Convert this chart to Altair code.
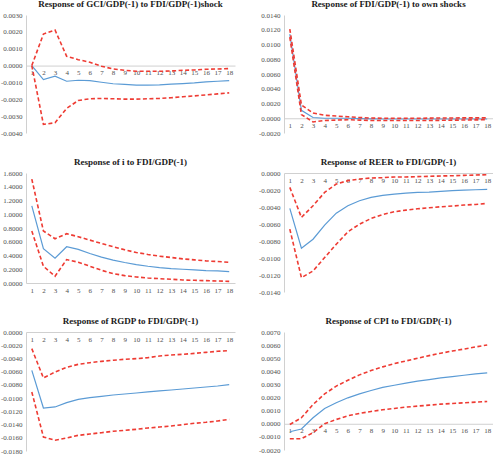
import altair as alt
import pandas as pd

# Horizon (periods after the shock)
steps = list(range(1, 19))

# Response of GCI/GDP(-1) to FDI/GDP(-1) shock
gci_irf = [0.0, -0.00083, -0.00063, -0.00093, -0.00087, -0.00089, -0.00099, -0.00108, -0.00112,
           -0.00116, -0.00116, -0.00114, -0.00110, -0.00107, -0.00103, -0.00097, -0.00093, -0.00089]
gci_upper = [0.0, 0.00187, 0.00211, 0.00055, 0.00035, 0.00020, -0.00004, -0.00020, -0.00028,
             -0.00034, -0.00034, -0.00034, -0.00032, -0.00028, -0.00026, -0.00022, -0.00020, -0.00018]
gci_lower = [0.0, -0.00349, -0.00339, -0.00254, -0.00207, -0.00197, -0.00195, -0.00197, -0.00199,
             -0.00199, -0.00197, -0.00195, -0.00191, -0.00185, -0.00180, -0.00174, -0.00168, -0.00162]
gci_ticks = [-0.004, -0.003, -0.002, -0.001, 0.0, 0.001, 0.002, 0.003]

# Response of FDI/GDP(-1) to own shocks
fdi_irf = [0.0114, 0.00107, 0.0001, 0.0, 0.0, 0.0, -0.00005, -0.00008, -0.0001,
           -0.0001, -0.0001, -0.0001, -0.0001, -0.0001, -0.0001, -0.0001, -0.0001, -0.0001]
fdi_upper = [0.0121, 0.0018, 0.0007, 0.0004, 0.0003, 0.0002, 0.0001, 0.00003, 0.0,
             0.0, 0.0, 0.0, 0.00002, 0.00003, 0.00004, 0.00005, 0.00005, 0.00005]
fdi_lower = [0.0110, 0.0005, -0.0005, -0.0003, -0.00025, -0.0002, -0.00025, -0.0003, -0.0003,
             -0.0003, -0.0003, -0.0003, -0.0003, -0.00028, -0.00026, -0.00024, -0.00022, -0.0002]
fdi_ticks = [-0.002, 0.0, 0.002, 0.004, 0.006, 0.008, 0.010, 0.012, 0.014]

# Response of i to FDI/GDP(-1)
i_irf = [1.122, 0.498, 0.361, 0.527, 0.488, 0.429, 0.376, 0.332, 0.298,
         0.268, 0.244, 0.224, 0.210, 0.200, 0.190, 0.180, 0.176, 0.166]
i_upper = [1.512, 0.756, 0.644, 0.717, 0.673, 0.624, 0.576, 0.527, 0.483,
           0.444, 0.415, 0.390, 0.371, 0.351, 0.337, 0.322, 0.312, 0.302]
i_lower = [0.756, 0.244, 0.098, 0.341, 0.302, 0.244, 0.185, 0.137, 0.107,
           0.088, 0.073, 0.063, 0.054, 0.044, 0.039, 0.034, 0.029, 0.024]
i_ticks = [0.0, 0.2, 0.4, 0.6, 0.8, 1.0, 1.2, 1.4, 1.6]

# Response of REER to FDI/GDP(-1)
reer_irf = [-0.00417, -0.00885, -0.00779, -0.00613, -0.00472, -0.00385, -0.00326, -0.00287, -0.00263,
            -0.00248, -0.00236, -0.00228, -0.00224, -0.00216, -0.00208, -0.00201, -0.00197, -0.00193]
reer_upper = [-0.00169, -0.00523, -0.00385, -0.00228, -0.00130, -0.00090, -0.00071, -0.00059, -0.00055,
              -0.00047, -0.00047, -0.00043, -0.00039, -0.00035, -0.00032, -0.00028, -0.00024, -0.00020]
reer_lower = [-0.00660, -0.01231, -0.01152, -0.00995, -0.00838, -0.00692, -0.00602, -0.00535, -0.00488,
              -0.00456, -0.00437, -0.00421, -0.00409, -0.00397, -0.00389, -0.00377, -0.00370, -0.00358]
reer_ticks = [-0.014, -0.012, -0.010, -0.008, -0.006, -0.004, -0.002, 0.0]

# Response of RGDP to FDI/GDP(-1)
rgdp_irf = [-0.00580, -0.01150, -0.01134, -0.01069, -0.01018, -0.00993, -0.00973, -0.00953, -0.00938,
            -0.00923, -0.00907, -0.00892, -0.00877, -0.00862, -0.00847, -0.00832, -0.00817, -0.00797]
rgdp_upper = [-0.00252, -0.00696, -0.00605, -0.00534, -0.00489, -0.00464, -0.00444, -0.00428, -0.00413,
              -0.00403, -0.00388, -0.00363, -0.00348, -0.00338, -0.00323, -0.00308, -0.00292, -0.00282]
rgdp_lower = [-0.00907, -0.01588, -0.01638, -0.01603, -0.01563, -0.01543, -0.01523, -0.01502, -0.01487,
              -0.01472, -0.01452, -0.01437, -0.01422, -0.01402, -0.01381, -0.01366, -0.01346, -0.01321]
rgdp_ticks = [-0.018, -0.016, -0.014, -0.012, -0.010, -0.008, -0.006, -0.004, -0.002, 0.0]

# Response of CPI to FDI/GDP(-1)
cpi_irf = [-0.00061, -0.00040, 0.00046, 0.00117, 0.00160, 0.00198, 0.00228, 0.00254, 0.00277,
           0.00294, 0.00310, 0.00325, 0.00337, 0.00350, 0.00360, 0.00370, 0.00380, 0.00388]
cpi_upper = [-0.00005, 0.00046, 0.00147, 0.00228, 0.00287, 0.00332, 0.00373, 0.00406, 0.00434,
             0.00459, 0.00479, 0.00500, 0.00520, 0.00538, 0.00555, 0.00570, 0.00586, 0.00601]
cpi_lower = [-0.00114, -0.00114, -0.00068, 0.0, 0.00033, 0.00061, 0.00079, 0.00094, 0.00107,
             0.00117, 0.00127, 0.00135, 0.00142, 0.00150, 0.00155, 0.00160, 0.00165, 0.00170]
cpi_ticks = [-0.002, -0.001, 0.0, 0.001, 0.002, 0.003, 0.004, 0.005, 0.006, 0.007]

BLUE = "#5B9BD5"
RED = "#EE3B33"
AXIS_GRAY = "#D0D0D0"
LABEL_GRAY = "#505050"
FONT = "Liberation Serif"
PANEL_W = 209

MINUS_FIX = "replace(format(datum.value, '.4f'), '\u2212', '-')"


def panel(title, irf, upper, lower, ticks, height):
    ymin, ymax = ticks[0], ticks[-1]
    # the category axis crosses the value axis at zero
    zero_px = height * ymax / (ymax - ymin)
    df = pd.DataFrame({
        "step": steps * 3,
        "series": ["irf"] * 18 + ["upper"] * 18 + ["lower"] * 18,
        "value": irf + upper + lower,
    })
    x = alt.X(
        "step:Q",
        scale=alt.Scale(domain=[0.5, 18.5], nice=False, zero=False),
        axis=alt.Axis(values=steps, format="d", ticks=False, grid=False, title=None,
                      offset=zero_px - height, domainColor=AXIS_GRAY, domainWidth=1,
                      labelFont=FONT, labelFontSize=7, labelColor=LABEL_GRAY,
                      labelPadding=3, labelFlush=False, labelOverlap=False),
    )
    y = alt.Y(
        "value:Q",
        scale=alt.Scale(domain=[ymin, ymax], nice=False, zero=False),
        axis=alt.Axis(values=ticks, labelExpr=MINUS_FIX, ticks=False, grid=False, title=None,
                      domainColor=AXIS_GRAY, domainWidth=1,
                      labelFont=FONT, labelFontSize=7, labelColor=LABEL_GRAY,
                      labelPadding=4, labelOverlap=False),
    )
    base = alt.Chart(df)
    irf_line = base.transform_filter(alt.datum.series == "irf").mark_line(
        color=BLUE, strokeWidth=1.2
    ).encode(x=x, y=y)
    bands = base.transform_filter(alt.datum.series != "irf").mark_line(
        color=RED, strokeWidth=1.6, strokeDash=[4, 2.5]
    ).encode(x=x, y=y, detail="series:N")
    return alt.layer(irf_line, bands).properties(
        width=PANEL_W,
        height=height,
        title=alt.TitleParams(title, font=FONT, fontSize=9, fontWeight="bold",
                              color="#1A1A1A", anchor="middle", offset=2),
    )


p1 = panel("Response of GCI/GDP(-1) to FDI/GDP(-1)shock", gci_irf, gci_upper, gci_lower, gci_ticks, 118)
p2 = panel("Response of FDI/GDP(-1) to own shocks", fdi_irf, fdi_upper, fdi_lower, fdi_ticks, 118)
p3 = panel("Response of i to FDI/GDP(-1)", i_irf, i_upper, i_lower, i_ticks, 110)
p4 = panel("Response of REER to FDI/GDP(-1)", reer_irf, reer_upper, reer_lower, reer_ticks, 119)
p5 = panel("Response of RGDP to FDI/GDP(-1)", rgdp_irf, rgdp_upper, rgdp_lower, rgdp_ticks, 119)
p6 = panel("Response of CPI to FDI/GDP(-1)", cpi_irf, cpi_upper, cpi_lower, cpi_ticks, 118)

chart = alt.concat(
    p1, p2, p3, p4, p5, p6, columns=2, spacing={"row": 22, "column": 23}
).properties(
    padding={"left": 0, "top": 0, "right": 0, "bottom": 0},
    background="white",
).configure_view(stroke=None)

chart.save("out.html", embed_options={"renderer": "svg", "actions": False})
